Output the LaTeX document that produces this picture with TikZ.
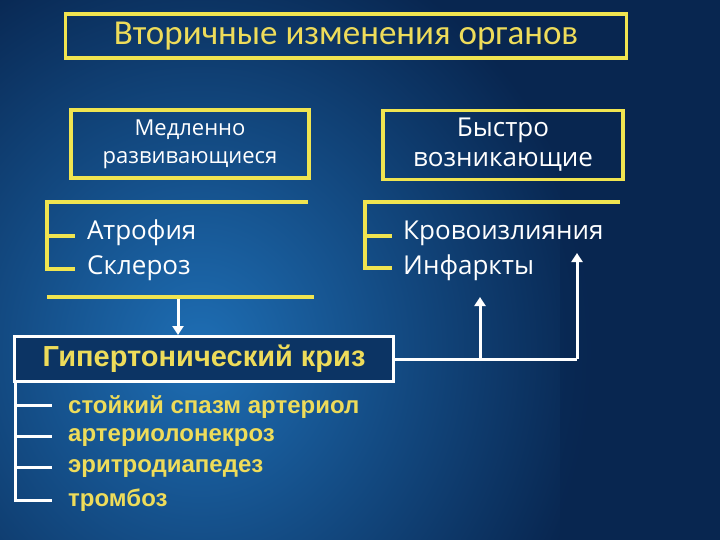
\documentclass[tikz,border=0pt]{standalone}
\usepackage{fontspec}
\setmainfont{Open Sans}
\newfontfamily\titlefont{Carlito}
\newfontfamily\boldfont{Liberation Sans}
\usetikzlibrary{arrows.meta}
\definecolor{navy}{RGB}{8,38,80}
\definecolor{lightblue}{RGB}{30,110,180}
\definecolor{ybox}{RGB}{240,228,80}
\definecolor{ytext}{RGB}{238,220,90}
\tikzset{
  ybox/.style={draw=ybox,line width=3.5pt},
  yline/.style={draw=ybox,line width=3.5pt},
  wline/.style={draw=white,line width=3pt},
  warrow/.style={draw=white,line width=3pt,-{Triangle[length=9pt,width=11pt]}},
  wtext/.style={text=white,anchor=west,font=\fontsize{26}{30}\selectfont,inner sep=0pt},
  ytextst/.style={text=ytext,anchor=west,font=\boldfont\bfseries\fontsize{24}{28}\selectfont,inner sep=0pt},
}
\begin{document}
\begin{tikzpicture}[x=1pt,y=-1pt]
\useasboundingbox (0,0) rectangle (720,540);
\fill[navy] (0,0) rectangle (720,540);
\shade[inner color=lightblue,outer color=navy] (-200,-80) rectangle (600,780);
\fill[navy,opacity=0.5] (560,0) rectangle (720,540);
% title
\node[ybox,minimum width=561pt,minimum height=44pt,inner sep=0pt,text=ytext,font=\titlefont\fontsize{35}{40}\selectfont] (title) at (346,36) {Вторичные изменения органов};
\node[ybox,minimum width=238pt,minimum height=68pt,inner sep=0pt,align=center,text=white,font=\fontsize{22}{28}\selectfont] (slow) at (190,144) {Медленно\\развивающиеся};
\node[ybox,minimum width=240pt,minimum height=69pt,inner sep=0pt,align=center,text=white,font=\fontsize{26}{30}\selectfont] (fast) at (503,145) {Быстро\\возникающие};
% left bracket
\coordinate (l1) at (47,202); \coordinate (l2) at (308,202);
\draw[yline] (l2) -- (l1) -- (47,269) -- (75,269);
\draw[yline] (47,236) -- (75,236);
\draw[yline] (47,297) -- (314,297);
\node[wtext] (atr) at (87,233) {Атрофия};
\node[wtext] (skl) at (87,268) {Склероз};
% right bracket
\draw[yline] (620,202) -- (365,202) -- (365,268) -- (392,268);
\draw[yline] (365,236) -- (392,236);
\node[wtext] (krov) at (403,233) {Кровоизлияния};
\node[wtext] (inf) at (403,268) {Инфаркты};
% crisis box
\node[draw=white,line width=3pt,minimum width=379pt,minimum height=45pt,inner sep=0pt,fill=navy!80!lightblue,text=ytext,font=\boldfont\bfseries\fontsize{29}{32}\selectfont] (kriz) at (204,359) {Гипертонический криз};
\coordinate (a1) at (178,299);
\draw[warrow] (a1) -- (kriz.north -| a1);
% list
\draw[wline] (15,381) -- (15,500) -- (52,500);
\foreach \y in {405,436,467} \draw[wline] (15,\y) -- (52,\y);
\node[ytextst] (i1) at (68,407) {стойкий спазм артериол};
\node[ytextst] (i2) at (68,438) {артериолонекроз};
\node[ytextst] (i3) at (68,469) {эритродиапедез};
\node[ytextst] (i4) at (68,500) {тромбоз};
% right connectors
\coordinate (c1) at (577,359);
\draw[wline] (kriz.east) -- (c1);
\draw[warrow] (c1) -- (577,253);
\draw[warrow] (480,359) -- (480,297);
\end{tikzpicture}
\end{document}
